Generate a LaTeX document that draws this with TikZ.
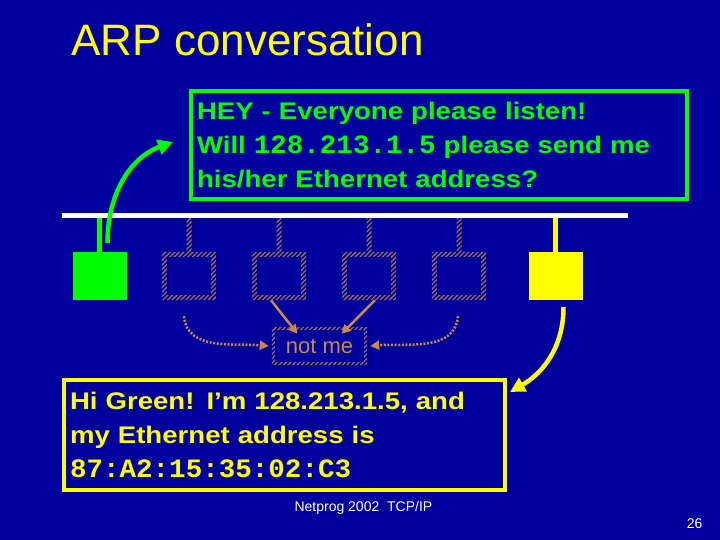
\documentclass[tikz,border=0pt]{standalone}
\usepackage{fontspec}
\setmainfont{Liberation Sans}
\newfontfamily\boxfont{Liberation Sans}[FakeStretch=1.15]
\newfontfamily\codefont{Liberation Mono}[FakeStretch=1.04]
\usetikzlibrary{arrows.meta,positioning,patterns.meta}
\definecolor{slide}{HTML}{00009C}
\definecolor{lime}{HTML}{00FF00}
\definecolor{lemon}{HTML}{FFFF00}
\definecolor{stripe}{HTML}{A0704E}
\definecolor{tan}{HTML}{C8884A}

\begin{document}
\begin{tikzpicture}[x=1pt,y=-1pt,
    hostbox/.style={minimum width=54pt,minimum height=48pt,inner sep=0pt},
    hatch/.style={pattern={Lines[angle=45,distance=3.2pt,line width=1.3pt]},
                  pattern color=stripe},
    talk/.style={line width=4pt,inner xsep=6pt,align=left,
                 font=\boxfont\fontsize{24}{34}\selectfont\bfseries},
    tanarrow/.style={draw=tan,line width=2.5pt,-{Triangle[length=9pt,width=9pt]}},
    bigarrow/.style={line width=4.5pt,-{Triangle[length=15pt,width=15pt]}}]
  \fill[slide] (0,0) rectangle (720,540);
  \useasboundingbox (0,0) rectangle (720,540);

  \node[anchor=base west,text=lemon,font=\fontsize{44}{48}\selectfont]
    (title) at (68,56) {ARP conversation};

  % the request and the reply
  \node[talk,draw=lime,text=lime,text width=484pt,minimum height=108pt] (ask) at (439,145)
    {HEY - Everyone please listen!\\
     Will {\codefont\fontsize{26.5}{34}\selectfont 128.213.1.5} please send me\\
     his/her Ethernet address?};
  \node[talk,draw=lemon,text=lemon,text width=429pt,minimum height=110pt] (reply) at (284.5,435)
    {Hi Green! I’m 128.213.1.5, and\\
     my Ethernet address is\\
     {\codefont\fontsize{26.5}{34}\selectfont 87:A2:15:35:02:C3}};

  % hosts on the wire
  \coordinate (busL) at (62,216);
  \coordinate (busR) at (628,216);
  \node[hostbox,fill=lime] (src) at (99.5,276) {};
  \foreach \i/\x in {1/189,2/279,3/369,4/459}
    \node[hostbox] (h\i) at (\x,276) {};
  \node[hostbox,fill=lemon] (dst) at (555.5,276) {};

  \draw[lime,line width=5pt] (src.north) -- (src.north |- busL);
  \draw[lemon,line width=5pt] (dst.north) -- (dst.north |- busL);
  \foreach \i in {1,...,4}{
    \fill[hatch] ([xshift=-2.5pt]h\i.north) rectangle ([xshift=2.5pt]h\i.north |- busL);
    \fill[hatch,even odd rule] (h\i.south west) rectangle (h\i.north east)
      ([shift={(5pt,5pt)}]h\i.south west) rectangle ([shift={(-5pt,-5pt)}]h\i.north east);
  }
  \draw[white,line width=5pt] (busL) -- (busR);

  % the others answer nothing
  \node[minimum width=95pt,minimum height=38pt,inner sep=0pt,text=tan,
        font=\fontsize{22}{24}\selectfont] (notme) at (319.5,346) {not me};
  \fill[hatch,even odd rule] (notme.south west) rectangle (notme.north east)
    ([shift={(3pt,3pt)}]notme.south west) rectangle ([shift={(-3pt,-3pt)}]notme.north east);
  \draw[tanarrow] ([xshift=-8pt]h2.south) -- ([xshift=-22pt,yshift=-7pt]notme.north);
  \draw[tanarrow] ([xshift=6pt]h3.south) -- ([xshift=22pt,yshift=-7pt]notme.north);
  \draw[tanarrow,dash pattern=on 2pt off 1.6pt]
    ([xshift=-5pt,yshift=-16pt]h1.south) to[out=-85,in=175] ([xshift=-3pt]notme.west);
  \draw[tanarrow,dash pattern=on 2pt off 1.6pt]
    ([xshift=-1pt,yshift=-16pt]h4.south) to[out=-95,in=5] ([xshift=3pt]notme.east);

  % broadcast and answer
  \draw[bigarrow,lime] ([xshift=8pt,yshift=9pt]src.north)
    to[out=90,in=200] ([xshift=-16pt,yshift=3pt]ask.west);
  \draw[bigarrow,lemon] ([xshift=8pt,yshift=-7pt]dst.south)
    to[out=-90,in=30] ([xshift=3pt,yshift=-14pt]reply.north east);

  \node[anchor=base west,text=white,font=\fontsize{14}{16}\selectfont]
    (foot) at (291,511) {Netprog 2002\ \ TCP/IP};
  \node[anchor=base east,text=white,font=\fontsize{14}{16}\selectfont]
    (page) at (706,528) {26};
\end{tikzpicture}
\end{document}
